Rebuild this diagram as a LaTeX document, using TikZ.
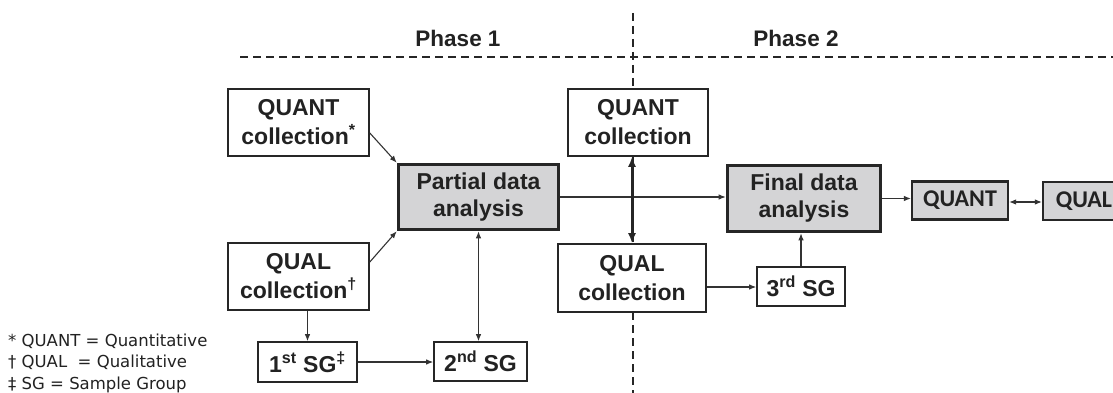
\documentclass[tikz,border=0pt]{standalone}
\usepackage{fontspec}
\setmainfont{Liberation Sans}
\newfontfamily\legendfont{DejaVu Sans}
\newfontfamily\smallboxfont{Carlito}
\usetikzlibrary{arrows.meta}
\definecolor{boxline}{HTML}{262626}
\definecolor{boxfill}{HTML}{D4D4D6}
\definecolor{txt}{HTML}{222222}
\definecolor{arrcol}{HTML}{333333}
\begin{document}
\begin{tikzpicture}[x=1pt,y=-1pt,
  box/.style={draw=boxline, line width=1.6pt, fill=white, inner sep=0pt, align=center,
    font=\bfseries\fontsize{23}{29}\selectfont, text=txt},
  thickbox/.style={box, line width=3.6pt, fill=boxfill, font=\bfseries\fontsize{23}{27}\selectfont},
  smallbox/.style={box, line width=2.2pt, fill=boxfill, font=\smallboxfont\bfseries\fontsize{24}{26}\selectfont},
  arr/.style={-{Latex[length=7pt,width=5.5pt]}, line width=1.1pt, draw=arrcol},
  darr/.style={{Latex[length=7pt,width=5.5pt]}-{Latex[length=7pt,width=5.5pt]}, line width=1.1pt, draw=arrcol},
  bigdarr/.style={{Latex[length=10pt,width=8pt]}-{Latex[length=10pt,width=8pt]}, line width=3pt, draw=boxline},
  divider/.style={dash pattern=on 8pt off 5pt, line width=1.5pt, draw=boxline},
  phase/.style={font=\bfseries\fontsize{22.5}{22.5}\selectfont, text=txt, anchor=base, inner sep=0pt},
  legend/.style={font=\legendfont\fontsize{16.5}{16.5}\selectfont, text=txt, anchor=base west, inner sep=0pt}
]
\useasboundingbox (0,0) rectangle (1113,393);
\clip (0,0) rectangle (1113,393);
\fill[white] (0,0) rectangle (1113,393);

% dividers
\coordinate (hl) at (240,57);
\coordinate (hr) at (1113,57);
\coordinate (vt) at (633,13);
\coordinate (vb) at (633,393);
\draw[divider] (hl) -- (hr);
\draw[divider] (vt) -- (vb);

% phase labels
\node[phase] (p1) at (458,47) {Phase 1};
\node[phase] (p2) at (796,47) {Phase 2};

% phase 1 boxes
\node[box, minimum width=141pt, minimum height=67pt] (q1) at (298.5,122.5) {QUANT\\collection\textsuperscript{*}};
\node[thickbox, minimum width=160pt, minimum height=65pt] (pa) at (478.5,197) {Partial data\\analysis};
\node[box, minimum width=141pt, minimum height=67pt] (ql1) at (298.5,276.5) {QUAL\\collection\textsuperscript{†}};
\node[box, minimum width=99pt, minimum height=40pt] (sg1) at (307.5,362) {1\textsuperscript{st} SG\textsuperscript{‡}};
\node[box, minimum width=93pt, minimum height=39pt] (sg2) at (480.5,361.5) {2\textsuperscript{nd} SG};

% phase 2 boxes
\node[box, minimum width=140pt, minimum height=67pt] (q2) at (638,122.5) {QUANT\\collection};
\node[box, minimum width=148pt, minimum height=68pt] (ql2) at (632,278) {QUAL\\collection};
\node[thickbox, minimum width=153pt, minimum height=66pt] (fa) at (804,198.5) {Final data\\analysis};
\node[box, minimum width=88pt, minimum height=39pt] (sg3) at (801,286.5) {3\textsuperscript{rd} SG};
\node[smallbox, minimum width=96pt, minimum height=38pt] (qn) at (960,200.5) {QUANT};
\node[smallbox, minimum width=82pt, minimum height=38pt] (qls) at (1084,201) {QUAL};

% connectors
\draw[arr] ([yshift=-10.5pt]q1.east) -- (pa.north west);
\draw[arr] ([yshift=14.5pt]ql1.east) -- (pa.south west);
\draw[arr] (ql1.south -| sg1.north) -- (sg1.north);
\draw[arr] (sg1.east) -- (sg1.east -| sg2.west);
\draw[darr] (pa.south) -- (pa.south |- sg2.north);
\draw[arr] (pa.east) -- (pa.east -| fa.west);
\draw[bigdarr] (q2.south -| ql2.north) -- (ql2.north);
\draw[arr] ([yshift=-9pt]ql2.east) -- ([yshift=-9pt]ql2.east -| sg3.west);
\draw[arr] (sg3.north) -- (sg3.north |- fa.south);
\draw[arr] (fa.east) -- (fa.east -| qn.west);
\draw[darr] ([yshift=-1.5pt]qn.east) -- ([yshift=-1.5pt]qn.east -| qls.west);

% legend
\node[legend] (l1) at (8,346) {* QUANT = Quantitative};
\node[legend] (l2) at (8,367.5) {† QUAL\ \ = Qualitative};
\node[legend] (l3) at (8,389) {‡ SG = Sample Group};
\end{tikzpicture}
\end{document}
